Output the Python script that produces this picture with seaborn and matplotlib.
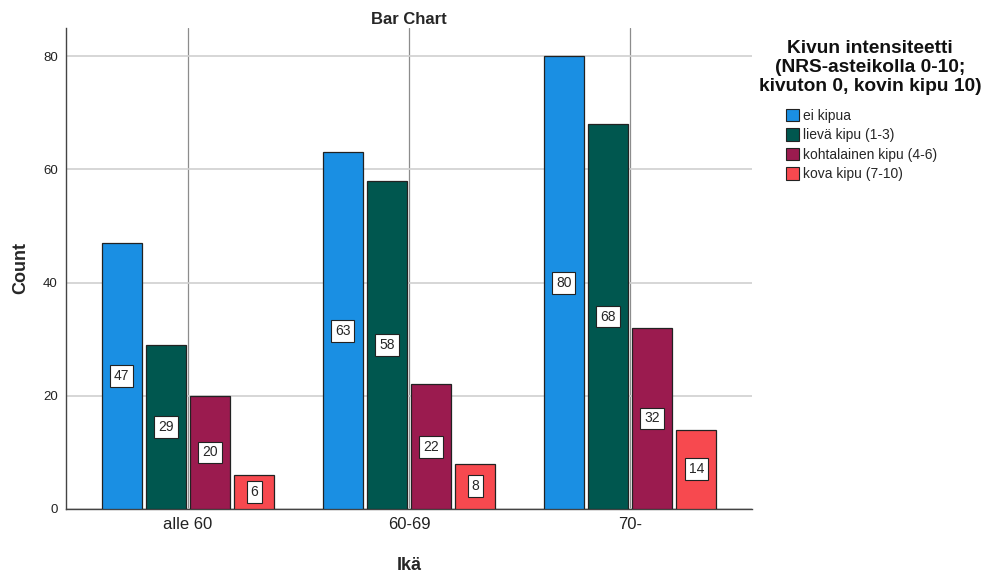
import matplotlib
matplotlib.use("Agg")
import matplotlib.pyplot as plt
import seaborn as sns
import pandas as pd
from matplotlib.patches import Patch

age_groups = ["alle 60", "60-69", "70-"]
pain_levels = ["ei kipua", "lievä kipu (1-3)", "kohtalainen kipu (4-6)", "kova kipu (7-10)"]
counts_ei = [47, 63, 80]
counts_lieva = [29, 58, 68]
counts_kohtalainen = [20, 22, 32]
counts_kova = [6, 8, 14]
palette = ["#1A8FE3", "#00574F", "#9B1B4F", "#F7494F"]
legend_title = "Kivun intensiteetti\n(NRS-asteikolla 0-10;\nkivuton 0, kovin kipu 10)"

rows = []
for level, vals in zip(pain_levels, [counts_ei, counts_lieva, counts_kohtalainen, counts_kova]):
    for age, v in zip(age_groups, vals):
        rows.append({"Ikä": age, "Kipu": level, "Count": v})
df = pd.DataFrame(rows)

sns.set_style("white")
plt.rcParams["font.family"] = ["Liberation Sans", "DejaVu Sans"]

fig = plt.figure(figsize=(9.82, 5.78), dpi=100)
ax = fig.add_axes([0.0672, 0.1194, 0.6986, 0.8322])

sns.barplot(data=df, x="Ikä", y="Count", hue="Kipu", order=age_groups,
            hue_order=pain_levels, palette=palette, width=0.8, gap=0.09,
            edgecolor="#222222", linewidth=0.9, saturation=1, ax=ax,
            legend=False, zorder=3)

ax.set_ylim(0, 85)
ax.set_xlim(-0.552, 2.552)
ax.set_yticks([0, 20, 40, 60, 80])
ax.yaxis.grid(True, color="#d0d0d0", linewidth=1.2, zorder=0)
ax.xaxis.grid(True, color="#8c8c8c", linewidth=0.9, zorder=0)
ax.set_axisbelow(True)
ax.tick_params(axis="both", length=0, pad=6)
ax.tick_params(axis="y", labelsize=9.5, colors="#222222")
ax.tick_params(axis="x", labelsize=12, colors="#222222")
for s in ["top", "right"]:
    ax.spines[s].set_visible(False)
for s in ["left", "bottom"]:
    ax.spines[s].set_color("#444444")
    ax.spines[s].set_linewidth(1.0)

ax.set_xlabel("Ikä", fontsize=13, fontweight="bold", labelpad=18)
ax.set_ylabel("Count", fontsize=13, fontweight="bold", labelpad=10)
ax.set_title("Bar Chart", fontsize=12, fontweight="bold", pad=3)

for cont in ax.containers:
    ax.bar_label(cont, label_type="center", fontsize=10,
                 bbox=dict(boxstyle="square,pad=0.28", facecolor="white",
                           edgecolor="#222222", linewidth=0.8))

fig.text(0.886, 0.930, legend_title, ha="center", va="top", fontsize=13.8,
         fontweight="bold", multialignment="center", linespacing=1.12,
         color="#111111")

handles = [Patch(facecolor=c, edgecolor="#222222", linewidth=0.8) for c in palette]
leg = fig.legend(handles, pain_levels, loc="upper left",
                 bbox_to_anchor=(0.800, 0.812), frameon=False,
                 fontsize=10, handlelength=1.0, handleheight=1.0,
                 handletextpad=0.25, labelspacing=0.4,
                 borderaxespad=0, borderpad=0)

fig.savefig("out.png", dpi=100)
